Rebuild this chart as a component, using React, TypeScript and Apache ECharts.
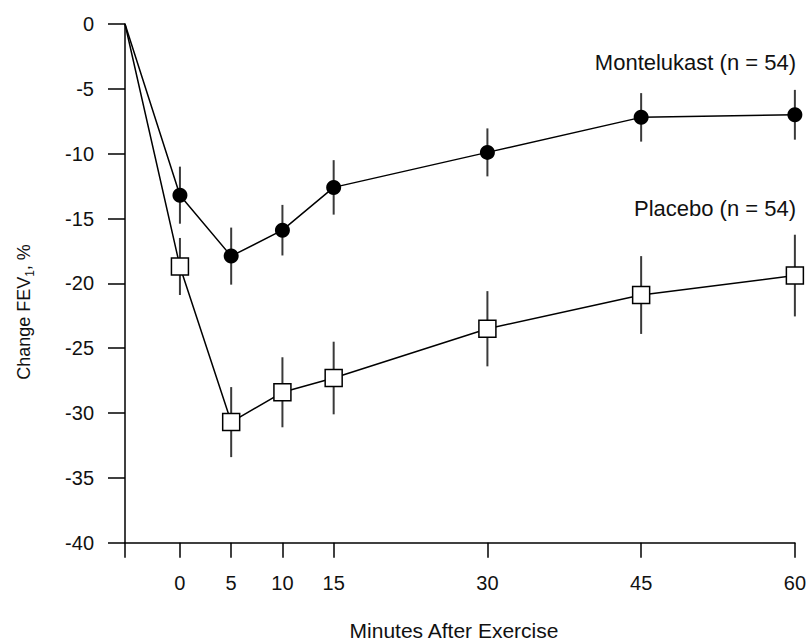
import React, { useEffect, useRef } from "react";
import * as echarts from "echarts";

// Baseline (pre-exercise) time, plotted at the start of the x axis
const PRE_TIME = -5.36;
const minutes = [0, 5, 10, 15, 30, 45, 60];
const xTickLabels = [0, 5, 10, 15, 30, 45, 60];
const yTicks = [0, -5, -10, -15, -20, -25, -30, -35, -40];

const montelukastMean = [-13.2, -17.9, -15.9, -12.6, -9.9, -7.2, -7.0];
const montelukastErr = [2.2, 2.2, 1.95, 2.1, 1.85, 1.87, 1.92];
const placeboMean = [-18.7, -30.7, -28.4, -27.3, -23.5, -20.9, -19.4];
const placeboErr = [2.2, 2.7, 2.7, 2.8, 2.9, 3.0, 3.15];

const FONT = "'Liberation Sans', Arial, sans-serif";

export default function App() {
  const ref = useRef<HTMLDivElement>(null);
  useEffect(() => {
    if (!ref.current) return;
    const chart = echarts.init(ref.current, undefined, { renderer: "svg" });

    const lineData = (mean: number[]) => [
      { value: [PRE_TIME, 0], symbol: "none" },
      ...minutes.map((m, i) => [m, mean[i]]),
    ];
    const errData = (mean: number[], err: number[]) =>
      minutes.map((m, i) => [m, mean[i], err[i]]);

    const renderErr = (params: any, api: any) => {
      const x = api.value(0);
      const y = api.value(1);
      const e = api.value(2);
      const top = api.coord([x, y + e]);
      const bot = api.coord([x, y - e]);
      return {
        type: "line",
        shape: { x1: top[0], y1: top[1], x2: bot[0], y2: bot[1] },
        style: { stroke: "#3a3a3a", lineWidth: 2 },
      };
    };

    chart.setOption({
      animation: false,
      backgroundColor: "#fff",
      grid: { left: 125, right: 13, top: 24, bottom: 99.3, containLabel: false },
      xAxis: {
        type: "value",
        min: PRE_TIME,
        max: 60,
        axisLine: { show: true, onZero: false, lineStyle: { color: "#000", width: 1.5 } },
        axisTick: {
          show: true,
          length: 15,
          lineStyle: { color: "#000", width: 1.5 },
          customValues: [PRE_TIME, ...xTickLabels],
        },
        axisLabel: {
          customValues: xTickLabels,
          margin: 30,
          fontSize: 20,
          color: "#111",
          fontFamily: FONT,
        },
        splitLine: { show: false },
      },
      yAxis: {
        type: "value",
        min: -40,
        max: 0,
        interval: 5,
        axisLine: { show: true, onZero: false, lineStyle: { color: "#000", width: 1.5 } },
        axisTick: {
          show: true,
          length: 17,
          lineStyle: { color: "#000", width: 1.5 },
          customValues: yTicks,
        },
        axisLabel: {
          customValues: yTicks,
          margin: 31,
          fontSize: 20,
          color: "#111",
          fontFamily: FONT,
        },
        splitLine: { show: false },
      },
      series: [
        {
          type: "custom",
          name: "Montelukast SE",
          renderItem: renderErr,
          data: errData(montelukastMean, montelukastErr),
          z: 1,
        },
        {
          type: "custom",
          name: "Placebo SE",
          renderItem: renderErr,
          data: errData(placeboMean, placeboErr),
          z: 1,
        },
        {
          type: "line",
          name: "Montelukast (n = 54)",
          data: lineData(montelukastMean),
          symbol: "circle",
          symbolSize: 15,
          showAllSymbol: true,
          lineStyle: { color: "#000", width: 1.5 },
          itemStyle: { color: "#000", borderColor: "#000", borderWidth: 0 },
          z: 3,
        },
        {
          type: "line",
          name: "Placebo (n = 54)",
          data: lineData(placeboMean),
          symbol: "rect",
          symbolSize: 17,
          showAllSymbol: true,
          lineStyle: { color: "#000", width: 1.5 },
          itemStyle: { color: "#fff", borderColor: "#000", borderWidth: 1.5 },
          z: 3,
        },
      ],
      graphic: [
        {
          type: "text",
          x: 796,
          y: 62,
          style: {
            text: "Montelukast (n = 54)",
            align: "right",
            verticalAlign: "middle",
            fontSize: 22,
            fontFamily: FONT,
            fill: "#111",
          },
        },
        {
          type: "text",
          x: 796,
          y: 208,
          style: {
            text: "Placebo (n = 54)",
            align: "right",
            verticalAlign: "middle",
            fontSize: 22,
            fontFamily: FONT,
            fill: "#111",
          },
        },
        {
          type: "text",
          x: 454,
          y: 630,
          style: {
            text: "Minutes After Exercise",
            align: "center",
            verticalAlign: "middle",
            fontSize: 21,
            fontFamily: FONT,
            fill: "#111",
          },
        },
        {
          type: "text",
          x: 24,
          y: 312,
          rotation: Math.PI / 2,
          style: {
            text: "Change FEV{sub|1}, %",
            align: "center",
            verticalAlign: "middle",
            fontSize: 18,
            fontFamily: FONT,
            fill: "#111",
            rich: {
              sub: {
                fontSize: 12,
                fontFamily: FONT,
                fill: "#111",
                verticalAlign: "bottom",
                padding: [12, 0, 0, 0],
              },
            },
          },
        },
      ],
    });
    return () => chart.dispose();
  }, []);

  return (
    <div
      ref={ref}
      style={{ position: "absolute", left: 0, top: 0, width: 809, height: 642 }}
    />
  );
}
